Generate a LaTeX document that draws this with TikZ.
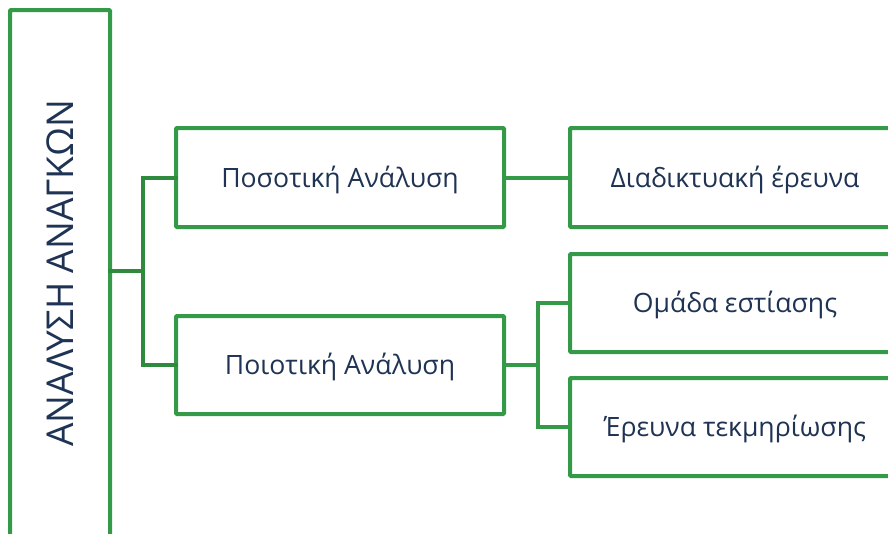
\documentclass[tikz,border=0pt]{standalone}
\usepackage{fontspec}
\setmainfont{Open Sans}
\definecolor{boxgreen}{HTML}{349A47}
\definecolor{conngreen}{HTML}{2F8A3E}
\definecolor{txt}{HTML}{1F3354}
\begin{document}
\begin{tikzpicture}[x=1pt,y=-1pt,
  box/.style={draw=boxgreen,line width=4pt,rectangle,outer sep=0pt,inner sep=0pt,
    text=txt,font=\fontsize{26.6}{32}\selectfont,rounded corners=1pt,
    text height=19pt,text depth=0pt},
  conn/.style={draw=conngreen,line width=4pt,line cap=rect}]
\useasboundingbox (0,0) rectangle (888,533);
\clip (0,0) rectangle (888,533);
\fill[white] (0,0) rectangle (888,533);
\node[box,minimum width=100pt,minimum height=532pt] (L) at (60,276) {};
\node[text=txt,font=\fontsize{37}{42}\selectfont,rotate=90,text height=26.4pt,text depth=0pt] (Lt) at (60,273) {ΑΝΑΛΥΣΗ ΑΝΑΓΚΩΝ};
\node[box,minimum width=328pt,minimum height=99pt] (A) at (340,177.5) {Ποσοτική Ανάλυση};
\node[box,minimum width=328pt,minimum height=98pt] (B) at (340,365) {Ποιοτική Ανάλυση};
\node[box,minimum width=330pt,minimum height=99pt] (C) at (735,177.5) {Διαδικτυακή έρευνα};
\node[box,minimum width=330pt,minimum height=98pt] (D) at (735,303) {Ομάδα εστίασης};
\node[box,minimum width=330pt,minimum height=98pt] (E) at (735,427) {Έρευνα τεκμηρίωσης};
\coordinate (j1) at (143,271);
\coordinate (j2) at (538,365);
\draw[conn] (L.east |- j1) -- (j1);
\draw[conn] (A.west) -| (j1) |- (B.west);
\draw[draw=boxgreen,line width=4pt] (A.east) -- (C.west);
\draw[draw=boxgreen,line width=4pt] (B.east) -- (j2);
\draw[draw=boxgreen,line width=4pt,line cap=rect] (D.west) -| (j2) |- (E.west);
\end{tikzpicture}
\end{document}
